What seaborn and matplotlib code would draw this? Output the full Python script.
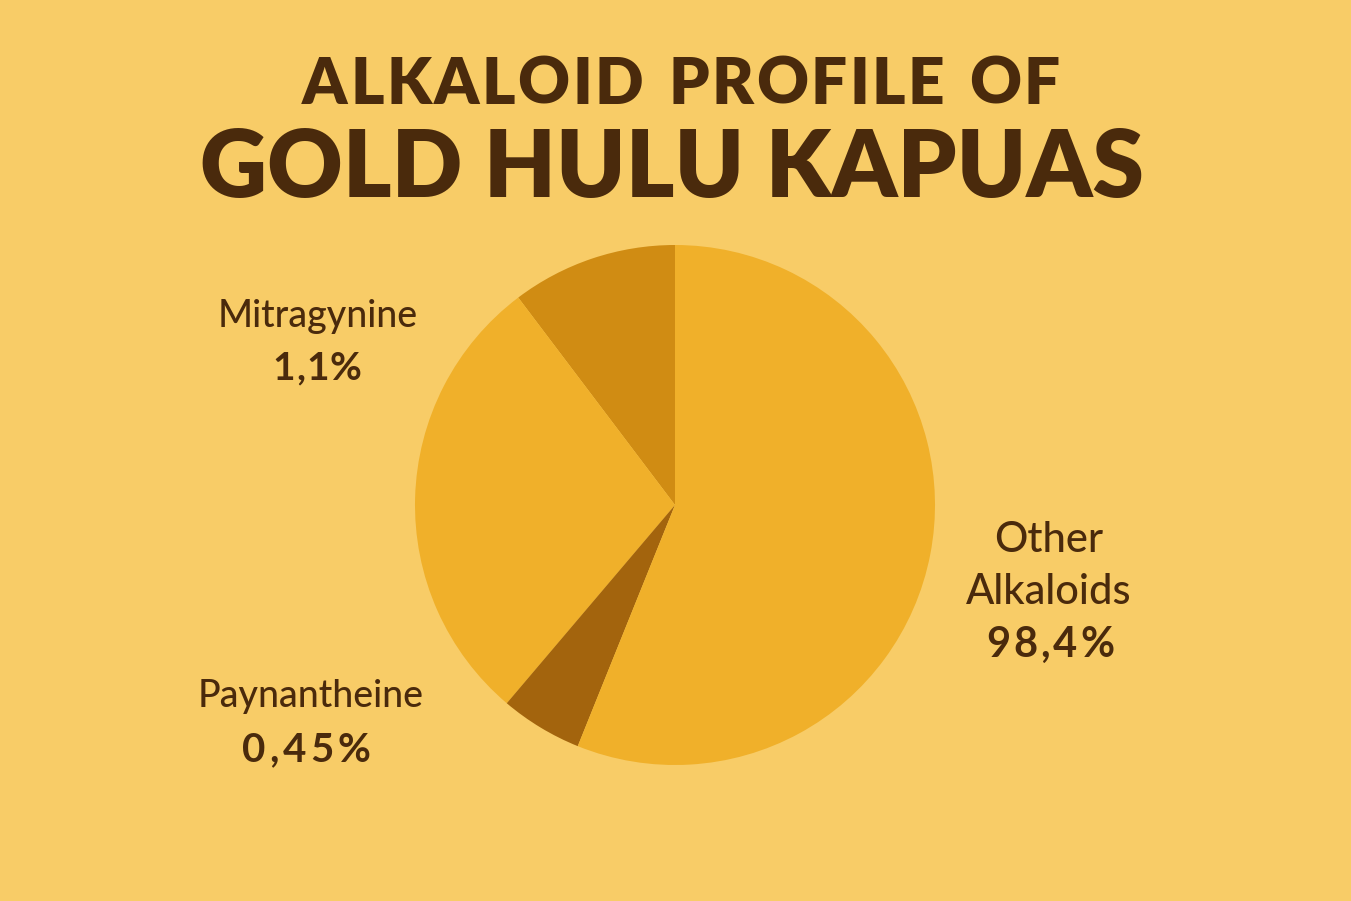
import matplotlib
matplotlib.use("Agg")
import matplotlib.pyplot as plt
import seaborn as sns

# ---- data ----
slice_names = ["Upper wedge", "Left wedge", "Lower wedge", "Main wedge"]
slice_shares = [10.3, 28.5, 5.1, 56.1]          # visual shares of the drawn pie (%)
slice_colors = ["#D08C13", "#F0B02A", "#A3640D", "#F0B02A"]

label_names = ["Mitragynine", "Paynantheine", "Other\nAlkaloids"]
label_values = ["1,1%", "0,45%", "98,4%"]

title_line1 = "ALKALOID PROFILE OF"
title_line2 = "GOLD HULU KAPUAS"

BG = "#F8CC67"
INK = "#4A2A0C"

sns.set_theme(style="white")
plt.rcParams["font.family"] = ["Lato", "DejaVu Sans"]

W, H = 1351, 901
fig = plt.figure(figsize=(W / 100, H / 100), dpi=100, facecolor=BG)

cx, cy, r = 675, 505, 260
ax = fig.add_axes([(cx - r) / W, (H - cy - r) / H, 2 * r / W, 2 * r / H])
ax.set_facecolor(BG)
ax.pie(slice_shares, colors=slice_colors, startangle=90, counterclock=True,
       radius=1.0, wedgeprops=dict(linewidth=0))
ax.set_xlim(-1, 1)
ax.set_ylim(-1, 1)
ax.set_aspect("equal")
ax.axis("off")

renderer = fig.canvas.get_renderer()


def px(x, y):
    return x / W, 1 - y / H


def tracked(text, xc, yc, tracking, **kw):
    """Draw text centred at pixel (xc, yc) with extra letter spacing (px)."""
    widths = []
    for ch in text:
        t = fig.text(0, 0, ch if ch != " " else "n", **kw)
        w = t.get_window_extent(renderer).width
        t.remove()
        widths.append(w * (0.55 if ch == " " else 1.0))
    total = sum(widths) + tracking * (len(text) - 1)
    x = xc - total / 2
    for ch, w in zip(text, widths):
        if ch != " ":
            fig.text(*px(x, yc), ch, ha="left", va="center", **kw)
        x += w + tracking


# title
tracked(title_line1, 681, 85, 2.5, fontsize=46, fontweight="heavy", color=INK)
fig.text(*px(672, 170), title_line2, ha="center", va="center", fontsize=67,
         fontweight="heavy", color=INK)

# labels
name_pos = [(318, 316), (311, 697), (1049, 540)]
name_size = [27, 27, 30]
val_pos = [(317, 368), (306, 750), (1050, 645)]
val_track = [1.0, 4.0, 3.0]
val_size = [28, 29, 30]
for name, val, (nx, ny), ns, (vx, vy), vt, vs in zip(
        label_names, label_values, name_pos, name_size, val_pos, val_track, val_size):
    for i, line in enumerate(name.split("\n")):
        fig.text(*px(nx, ny + i * 52), line, ha="center", va="center",
                 fontsize=ns, fontweight="medium", color=INK)
    tracked(val, vx, vy, vt, fontsize=vs, fontweight="bold", color=INK)

fig.savefig("out.png", dpi=100, facecolor=BG)
